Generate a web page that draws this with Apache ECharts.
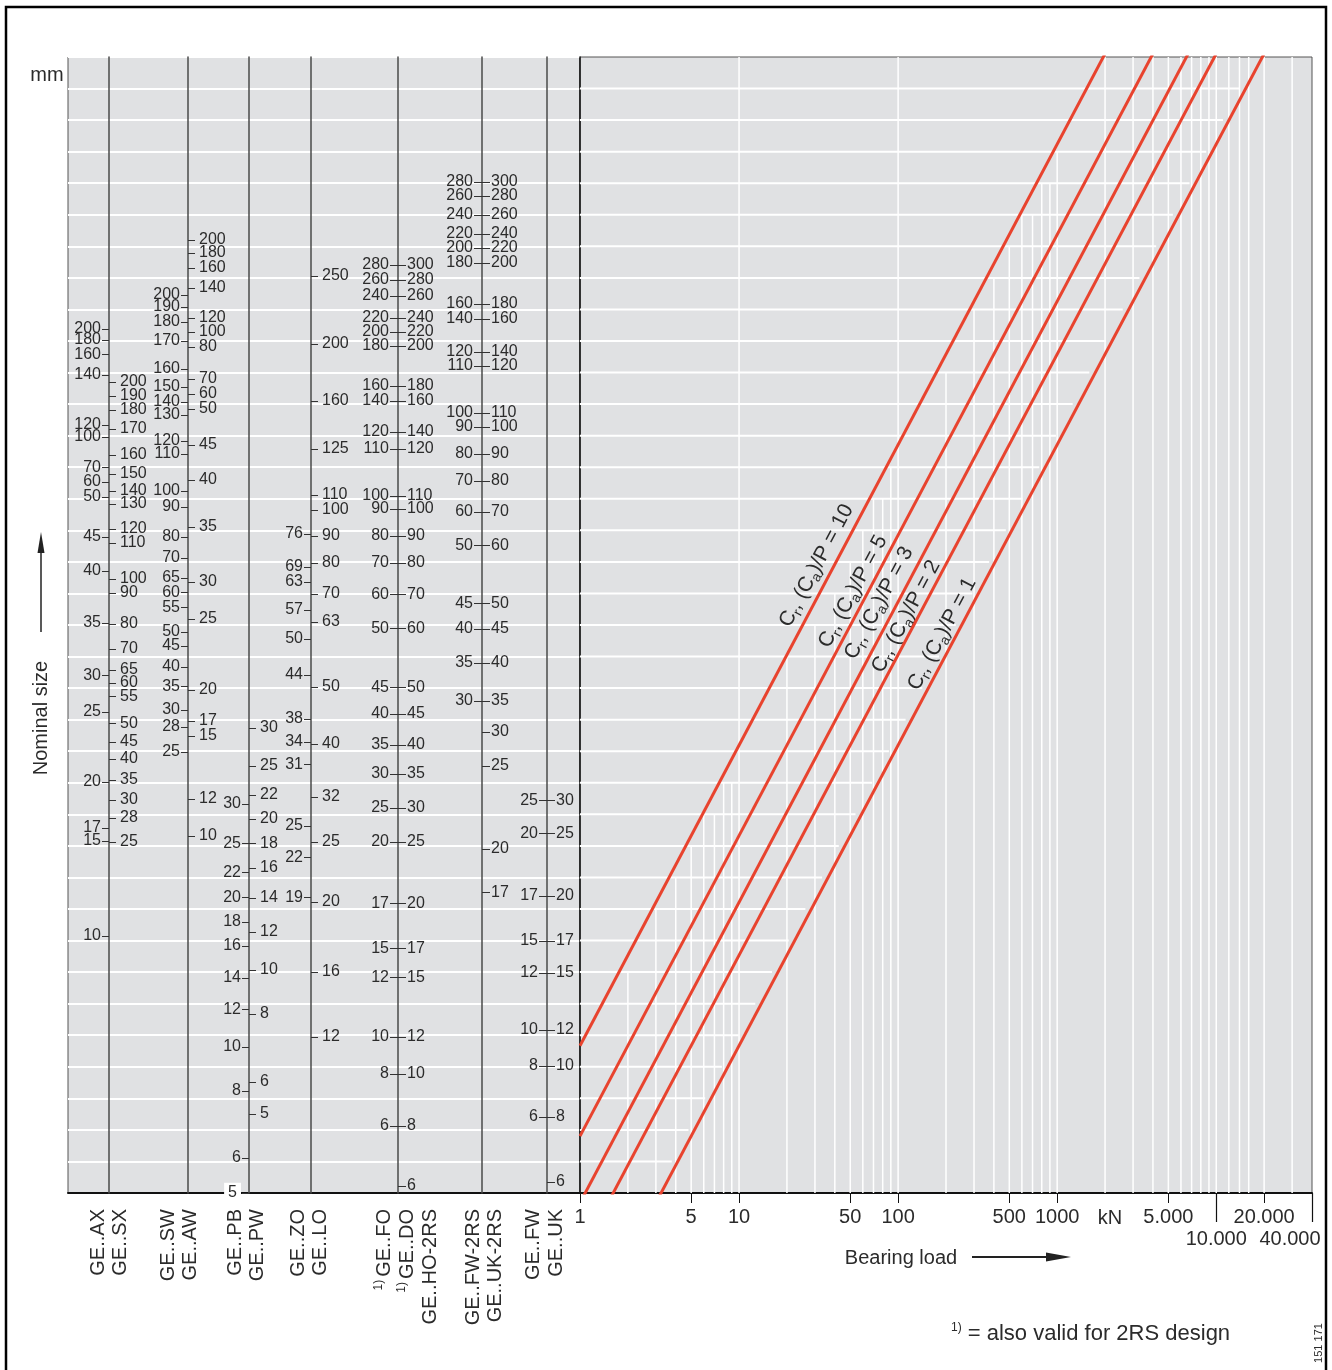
<!DOCTYPE html>
<html><head><meta charset="utf-8">
<script src="https://cdn.jsdelivr.net/npm/echarts@6/dist/echarts.min.js"></script>
<style>html,body{margin:0;padding:0;background:#fff}#c{width:1332px;height:1370px}</style>
</head><body><div id="c"></div>
<script>
// ================= DATA =================
// Nominal sizes (mm) and the load rating (kN) each one sits at on the common load scale
const AX_sizes = [200,180,160,140,120,100,70,60,50,45,40,35,30,25,20,17,15,10];
const AX_loads = [2430,2230,2000,1705,1163,1060,842,751,670,493,380,255,171,129,75.4,53.0,48.0,23.2];
const SX_sizes = [200,190,180,170,160,150,140,130,120,110,100,90,80,70,65,60,55,50,45,40,35,30,28,25];
const SX_loads = [1616,1451,1304,1128,924,799,701,635,524,471,357,321,253,209,178,161,145,118,102.4,89.9,76.6,65.7,57.2,47.6];
const SW_sizes = [200,190,180,170,160,150,140,130,120,110,100,90,80,70,65,60,55,50,45,40,35,30,28,25];
const SW_loads = [3150,2870,2560,2213,1785,1556,1387,1255,1029,931,701,620,493,419.5,360,323,288,238,214,182,157,131,115,94.9];
const AW_sizes = [200,180,160,140,120,100,80,70,60,50,45,40,35,30,25,20,17,15,12,10];
const AW_loads = [4800,4342,3870,3320,2640,2371,2113,1654,1474,1314,997,763,532,349,263,152.6,120.3,107.3,66.2,49.9];
const PB_sizes = [30,25,22,20,18,16,14,12,10,8,6,5];
const PB_loads = [63.7,47.2,37.8,31.2,25.8,21.5,16.8,13.2,9.9,7.07,4.23,3.24];
const PW_sizes = [30,25,22,20,18,16,14,12,10,8,6,5];
const PW_loads = [114,85.2,68.3,56.8,47.2,39.0,31.0,23.9,17.85,12.75,7.57,5.92];
const ZO_sizes = [76,69,63,57,50,44,38,34,31,25,22,19];
const ZO_loads = [504,391.5,349,281.6,225.5,171.2,122.2,102.4,86.5,53.8,42.4,31.2];
const LO_sizes = [250,200,160,125,110,100,90,80,70,63,50,40,32,25,20,16,12];
const LO_loads = [3641,2163,1398,967,680,606,496.6,403.7,318.4,256.9,156.1,100.9,67.2,47.6,30.1,17.6,10.7];
const FO_sizes = [280,260,240,220,200,180,160,140,120,110,100,90,80,70,60,50,45,40,35,30,25,20,17,15,12,10,8,6];
const FO_loads = [3960,3531,3123,2640,2371,2130,1568,1398,1102,967,675,611,497,404,318,245,156,127,100.1,80.2,61.8,47.6,29.8,21.1,16.9,10.7,8.05,5.40];
const DO_sizes = [300,280,260,240,220,200,180,160,140,120,110,100,90,80,70,60,50,45,40,35,30,25,20,17,15,12,10,8,6];
const DO_loads = [3960,3531,3123,2640,2371,2130,1568,1398,1102,967,675,611,497,404,318,245,156,127,100.1,80.2,61.8,47.6,29.8,21.1,16.9,10.7,8.05,5.40,3.41];
const FW2RS_sizes = [280,260,240,220,200,180,160,140,120,110,100,90,80,70,60,50,45,40,35,30];
const FW2RS_loads = [7482,6721,5810,5023,4511,4021,2939,2619,2034,1827,1274,1145,931,757,597,463,297,243.5,187.6,140.3];
const UK2RS_sizes = [300,280,260,240,220,200,180,160,140,120,110,100,90,80,70,60,50,45,40,35,30,25,20,17];
const UK2RS_loads = [7482,6721,5810,5023,4511,4021,2939,2619,2034,1827,1274,1145,931,757,597,463,297,243.5,187.6,140.3,110.6,85.2,45.1,32.4];
const FW_sizes = [25,20,17,15,12,10,8,6];
const FW_loads = [65.35,50.9,31.5,22.3,17.45,11.28,8.56,5.79];
const UK_sizes = [30,25,20,17,15,12,10,8,6];
const UK_loads = [65.35,50.9,31.5,22.3,17.45,11.28,8.56,5.79,3.52];

// Rating lines C/P = r : two points [bearing load P, load rating C]
const ratioNames = ['10','5','3','2','1'];
const lineR10 = [[1,10],[4000,40000]];
const lineR5  = [[1,5],[8000,40000]];
const lineR3  = [[1,3],[13000,39000]];
const lineR2  = [[1,2],[20000,40000]];
const lineR1  = [[1,1],[40000,40000]];
// label anchor points (P, C) for the rating-line captions
const lineLabelAt = [[30.7,396],[52.1,324.6],[75.9,297.2],[112.3,268],[189.1,234.4]];

// Bearing-load axis ticks
const loadTicks = [1,5,10,50,100,500,1000,5000,20000];
const loadTickLabels = ['1','5','10','50','100','500','1000','5.000','20.000'];
const loadTicks2 = [10000,40000];
const loadTickLabels2 = ['10.000','40.000'];
// grid lines of the load grid
const gridLoadsV = [2,3,4,5,6,7,8,9,10,20,30,40,50,60,70,80,90,100,200,300,400,500,600,700,800,900,1000,2000,3000,4000,5000,6000,7000,8000,9000,10000,12000,14000,16000,20000,30000];
const gridLoadsFull = [10,100];
const gridRowsH = [1,2,3,4,5,6,7,8,9,10,11,12,13,14,15,16,17,18,19,20,21,22,23,24,25,26,27,28,29,30,31,32,33,34,35];

const seriesLabels = ['GE..AX','GE..SX','GE..SW','GE..AW','GE..PB','GE..PW','GE..ZO','GE..LO','GE..FO','GE..DO','GE..HO-2RS','GE..FW-2RS','GE..UK-2RS','GE..FW','GE..UK'];
const seriesFoot = [0,0,0,0,0,0,0,0,1,1,0,0,0,0,0];

// ================= LAYOUT =================
const GL = 68, GM = 580, GR = 1312, GT = 57, GB = 1193;
const C_MIN = 3.234, C_MAX = 19500, N_ROWS = 36;
const FONT = '"Liberation Sans", Arial, Helvetica, sans-serif';
const NARROW = '"Liberation Sans Narrow", "Arial Narrow", "Liberation Sans", Arial, sans-serif';
const GRAY = '#e0e1e3';
const INK = '#2b2b2b';
const seriesLabelX = [98,120,168,190,235,257,298,320,384,407,430,473,495,533,556];

const columns = [
  {x:109, left:[AX_sizes,AX_loads], right:[SX_sizes,SX_loads], tl:7, tr:7, ml:1, mr:4},
  {x:188, left:[SW_sizes,SW_loads], right:[AW_sizes,AW_loads], tl:7, tr:7, ml:1, mr:4},
  {x:249, left:[PB_sizes,PB_loads], right:[PW_sizes,PW_loads], tl:7, tr:7, ml:1, mr:4, special:true},
  {x:311, left:[ZO_sizes,ZO_loads], right:[LO_sizes,LO_loads], tl:7, tr:7, ml:1, mr:4},
  {x:398, left:[FO_sizes,FO_loads], right:[DO_sizes,DO_loads], tl:8, tr:8, ml:1, mr:1},
  {x:482, left:[FW2RS_sizes,FW2RS_loads], right:[UK2RS_sizes,UK2RS_loads], tl:8, tr:8, ml:1, mr:1},
  {x:547, left:[FW_sizes,FW_loads], right:[UK_sizes,UK_loads], tl:8, tr:8, ml:1, mr:1}
];

function labelLookup(sizes, loads, special) {
  return function (v) {
    let bi = 0, bd = Infinity;
    for (let i = 0; i < loads.length; i++) {
      const d = Math.abs(Math.log(v) - Math.log(loads[i]));
      if (d < bd) { bd = d; bi = i; }
    }
    const s = String(sizes[bi]);
    if (special && sizes[bi] === 5) return '{w|' + s + '}';
    return s;
  };
}

function scaleAxis(x, sizes, loads, values, side, tickLen, gap, showLine, special) {
  const inside = side === 'right';
  return {
    type: 'log', logBase: 10, gridIndex: 0, min: C_MIN, max: C_MAX,
    position: 'left', offset: GL - x, z: 3,
    axisLine: {show: showLine, onZero: false, lineStyle: {color: '#4a4a4a', width: 1.5}},
    axisTick: {show: true, customValues: values, inside: inside, length: tickLen,
      lineStyle: {color: '#333', width: 1}},
    axisLabel: {show: true, customValues: values, inside: inside, margin: tickLen + gap,
      showMinLabel: true, showMaxLabel: true,
      color: INK, fontSize: 16, lineHeight: 12, fontFamily: NARROW, hideOverlap: false,
      formatter: labelLookup(sizes, loads, special),
      rich: {w: {backgroundColor: '#fff', fontSize: 16, lineHeight: 12, fontFamily: NARROW, color: INK, padding: [2, 4, 2, 4]}}},
    splitLine: {show: false}, minorTick: {show: false}, minorSplitLine: {show: false}
  };
}

const yAxes = [
  {type: 'value', gridIndex: 0, min: 0, max: N_ROWS, interval: 1, show: true,
   axisLine: {show: false}, axisTick: {show: false}, axisLabel: {show: false},
   splitLine: {show: true, lineStyle: {color: '#ffffff', width: 2}}}
];
// each scale side is split into two interleaved axes so neighbouring labels never collide
function pushSide(x, pair, side, tickLen, gap, withLine, special) {
  const sizes = pair[0], loads = pair[1];
  [0, 1].forEach(par => {
    const vals = loads.filter((v, i) => i % 2 === par);
    if (vals.length) yAxes.push(scaleAxis(x, sizes, loads, vals, side, tickLen, gap, withLine && par === 0, special));
  });
}
columns.forEach(c => {
  pushSide(c.x, c.left, 'left', c.tl, c.ml, true, !!c.special);
  pushSide(c.x, c.right, 'right', c.tr, c.mr, false, false);
});
const RIGHT_Y = yAxes.length;
yAxes.push({
  type: 'log', logBase: 10, gridIndex: 1, min: C_MIN, max: C_MAX, position: 'left',
  axisLine: {show: true, onZero: false, lineStyle: {color: '#111', width: 1.5}},
  axisTick: {show: false}, axisLabel: {show: false}, splitLine: {show: false},
  minorTick: {show: false}, minorSplitLine: {show: false}
});

function fmtFrom(ticks, labels) {
  return function (v) {
    let bi = 0, bd = Infinity;
    for (let i = 0; i < ticks.length; i++) {
      const d = Math.abs(Math.log(v) - Math.log(ticks[i]));
      if (d < bd) { bd = d; bi = i; }
    }
    return labels[bi] === '40.000' ? '{r|40.000}' : labels[bi];
  };
}

const xAxes = [
  {type: 'value', gridIndex: 0, min: 0, max: 1, position: 'bottom',
   axisLine: {show: true, onZero: false, lineStyle: {color: '#111', width: 2}},
   axisTick: {show: false}, axisLabel: {show: false}, splitLine: {show: false}},
  {type: 'log', logBase: 10, gridIndex: 1, min: 1, max: 40000, position: 'bottom',
   axisLine: {show: true, onZero: false, lineStyle: {color: '#111', width: 2}},
   axisTick: {show: true, customValues: loadTicks, length: 10, lineStyle: {color: '#111', width: 1}},
   axisLabel: {show: true, customValues: loadTicks, margin: 14, color: INK, fontSize: 20, fontFamily: FONT,
     showMinLabel: true, showMaxLabel: true,
     formatter: fmtFrom(loadTicks, loadTickLabels), hideOverlap: false},
   splitLine: {show: false}, minorTick: {show: false}, minorSplitLine: {show: false}},
  {type: 'log', logBase: 10, gridIndex: 1, min: 1, max: 40000, position: 'bottom',
   axisLine: {show: false, onZero: false},
   axisTick: {show: true, customValues: loadTicks2, length: 29, lineStyle: {color: '#111', width: 1.2}},
   axisLabel: {show: true, customValues: loadTicks2, margin: 36, color: INK, fontSize: 20, fontFamily: FONT,
     showMinLabel: true, showMaxLabel: true,
     formatter: fmtFrom(loadTicks2, loadTickLabels2), hideOverlap: false,
     rich: {r: {fontSize: 20, fontFamily: FONT, color: INK, padding: [0, 44, 0, 0]}}},
   splitLine: {show: false}, minorTick: {show: false}, minorSplitLine: {show: false}}
];

const ratioLines = [lineR10, lineR5, lineR3, lineR2, lineR1];
const redSeries = ratioLines.map((pts, i) => ({
  type: 'line', xAxisIndex: 1, yAxisIndex: RIGHT_Y, data: pts, symbol: 'none', clip: true, z: 5,
  silent: true, animation: false,
  lineStyle: {color: '#e8432e', width: 3},
  markPoint: {
    symbol: 'circle', symbolSize: 1, itemStyle: {color: 'rgba(0,0,0,0)'}, animation: false,
    data: [{coord: lineLabelAt[i], value: ratioNames[i]}],
    label: {show: true, position: 'inside', rotate: 62, color: '#2b2b2b',
      formatter: '{b|C}{s|r}{b|, (C}{s|a}{b|)/P = ' + ratioNames[i] + '}',
      rich: {b: {fontSize: 21, lineHeight: 26, fontFamily: FONT, color: '#2b2b2b'},
             s: {fontSize: 14, lineHeight: 14, verticalAlign: 'bottom', fontFamily: FONT, color: '#2b2b2b'}}}
  }
}));

// vertical grid lines: from the bottom up to the grid row just below the C/P = 10 line
const gridV = {
  type: 'custom', xAxisIndex: 1, yAxisIndex: RIGHT_Y, z: 1, silent: true, animation: false, clip: true,
  data: gridLoadsV.map(p => [p, C_MIN]),
  renderItem: function (params, api) {
    const cs = params.coordSys;
    const rowH = cs.height / N_ROWS;
    const p = api.value(0);
    const a = api.coord([p, C_MIN]);
    let yTop = cs.y;
    if (gridLoadsFull.indexOf(p) < 0 && 10 * p < C_MAX) {
      const b = api.coord([p, 10 * p]);
      const k = Math.ceil((b[1] - cs.y) / rowH - 0.02);
      yTop = cs.y + k * rowH;
    }
    return {type: 'line', shape: {x1: a[0], y1: a[1], x2: a[0], y2: yTop},
            style: {stroke: '#ffffff', lineWidth: 1.5}};
  }
};
// horizontal grid lines: from the left edge up to just before the C/P = 1 line
const gridH = {
  type: 'custom', xAxisIndex: 1, yAxisIndex: RIGHT_Y, z: 1, silent: true, animation: false, clip: true,
  data: gridRowsH.map(k => [1, k]),
  renderItem: function (params, api) {
    const k = api.value(1);
    const lmax = Math.log10(C_MAX), lmin = Math.log10(C_MIN);
    const c = Math.pow(10, lmax - k / N_ROWS * (lmax - lmin));
    const a = api.coord([1, c]), b = api.coord([c, c]);
    return {type: 'line', shape: {x1: a[0], y1: a[1], x2: b[0] - 6, y2: a[1]},
            style: {stroke: '#ffffff', lineWidth: 2}};
  }
};

// ================= GRAPHICS (text annotations) =================
function txt(x, y, text, opt) {
  return Object.assign({type: 'text', x: x, y: y, z: 20, silent: true,
    style: Object.assign({text: text, fill: INK, fontSize: 20, fontFamily: FONT,
      align: 'center', verticalAlign: 'middle', textAlign: 'center', textVerticalAlign: 'middle'}, opt && opt.style)},
    opt && opt.el);
}
const graphics = [
  {type: 'rect', z: 20, silent: true, shape: {x: 6, y: 7, width: 1320, height: 1390},
   style: {fill: 'none', stroke: '#000', lineWidth: 2.5}},
  txt(47, 75, 'mm'),
  txt(41, 718, 'Nominal size', {el: {rotation: Math.PI / 2}}),
  {type: 'line', z: 20, silent: true, shape: {x1: 41, y1: 632, x2: 41, y2: 548}, style: {stroke: '#222', lineWidth: 1.5}},
  {type: 'polygon', z: 20, silent: true, shape: {points: [[41, 532], [37.5, 553], [44.5, 553]]}, style: {fill: '#222'}},
  txt(1110, 1218, 'kN'),
  txt(901, 1258, 'Bearing load'),
  {type: 'line', z: 20, silent: true, shape: {x1: 972, y1: 1257, x2: 1050, y2: 1257}, style: {stroke: '#222', lineWidth: 2}},
  {type: 'polygon', z: 20, silent: true, shape: {points: [[1071, 1257], [1046, 1252.5], [1046, 1261.5]]}, style: {fill: '#222'}},
  {type: 'text', x: 951, y: 1334, z: 20, silent: true,
   style: {text: '{s|1)}{b| = also valid for 2RS design}', fill: INK, align: 'left', verticalAlign: 'middle',
     textAlign: 'left', textVerticalAlign: 'middle',
     rich: {b: {fontSize: 22, lineHeight: 25, fontFamily: FONT, fill: INK, color: INK},
            s: {fontSize: 12, lineHeight: 12, verticalAlign: 'top', fontFamily: FONT, fill: INK, color: INK}}}},
  txt(1319, 1343, '151 171', {el: {rotation: Math.PI / 2}, style: {fontSize: 11}})
];
seriesLabels.forEach((s, i) => {
  const text = seriesFoot[i] ? '{s|1)}{b|' + s + '}' : '{b|' + s + '}';
  graphics.push({type: 'text', x: seriesLabelX[i], y: 1209, rotation: Math.PI / 2, z: 20, silent: true,
    style: {text: text, fill: INK, align: 'right', verticalAlign: 'middle', textAlign: 'right', textVerticalAlign: 'middle',
      rich: {b: {fontSize: 20, lineHeight: 22, fontFamily: FONT, fill: INK, color: INK},
             s: {fontSize: 12, lineHeight: 12, verticalAlign: 'top', fontFamily: FONT, fill: INK, color: INK, padding: [0, 3, 0, 0]}}}});
});

const chart = echarts.init(document.getElementById('c'), null, {renderer: 'canvas', width: 1332, height: 1370});
chart.setOption({
  animation: false,
  backgroundColor: '#ffffff',
  grid: [
    {left: GL, top: GT, width: GM - GL, height: GB - GT, show: true, backgroundColor: GRAY,
     borderColor: '#555', borderWidth: 1, containLabel: false, outerBoundsMode: 'none'},
    {left: GM, top: GT, width: GR - GM, height: GB - GT, show: true, backgroundColor: GRAY,
     borderColor: '#555', borderWidth: 1, containLabel: false, outerBoundsMode: 'none'}
  ],
  xAxis: xAxes,
  yAxis: yAxes,
  series: [gridV, gridH].concat(redSeries),
  graphic: graphics
});
</script></body></html>
